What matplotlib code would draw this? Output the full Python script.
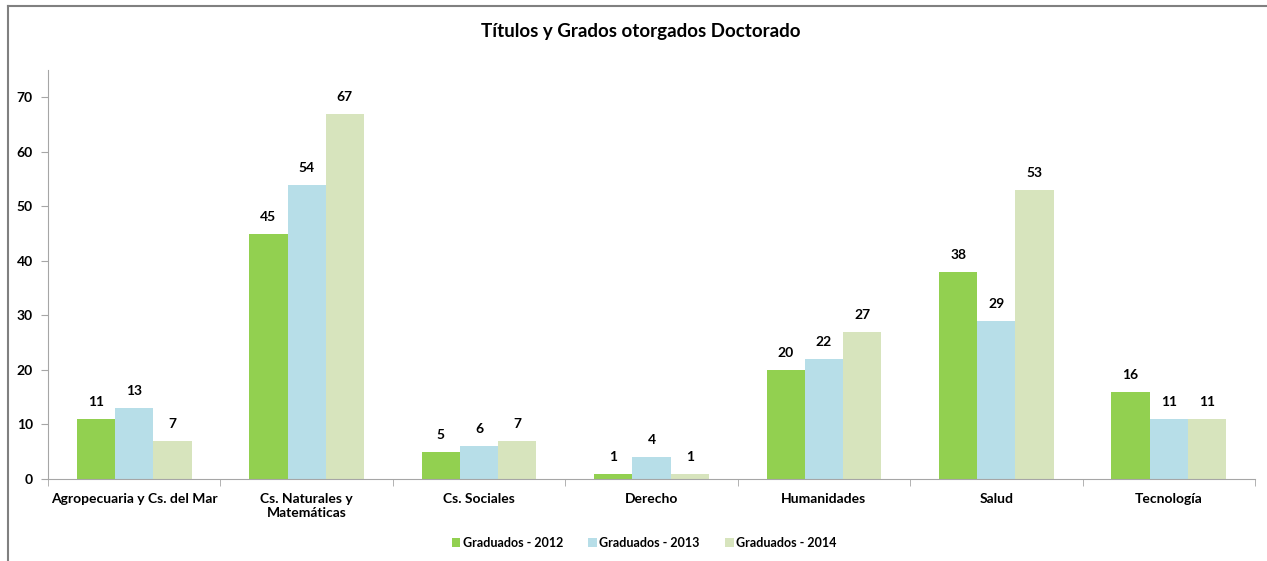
import numpy as np
import matplotlib
matplotlib.use("Agg")
import matplotlib.pyplot as plt
from matplotlib.lines import Line2D

plt.rcParams['font.family'] = ['Lato', 'DejaVu Sans']
plt.rcParams['font.weight'] = 'bold'

categorias = ["Agropecuaria y Cs. del Mar", "Cs. Naturales y\nMatemáticas", "Cs. Sociales",
              "Derecho", "Humanidades", "Salud", "Tecnología"]
grad_2012 = [11, 45, 5, 1, 20, 38, 16]
grad_2013 = [13, 54, 6, 4, 22, 29, 11]
grad_2014 = [7, 67, 7, 1, 27, 53, 11]
series = ["Graduados - 2012", "Graduados - 2013", "Graduados - 2014"]
colores = ["#92D050", "#B7DEE8", "#D7E4BD"]

fig = plt.figure(figsize=(12.67, 5.61), dpi=100)
ax = fig.add_axes([48/1267, 1-479/561, (1255-48)/1267, (479-70)/561])

x = np.arange(len(categorias))
w = 0.222
for i, (vals, nombre, c) in enumerate(zip([grad_2012, grad_2013, grad_2014], series, colores)):
    pos = x + (i-1)*w
    ax.bar(pos, vals, w, color=c, label=nombre)
    for p, v in zip(pos, vals):
        ax.text(p, v + 2.0, str(v), ha='center', va='bottom', fontsize=10, fontweight='bold', color='#000000')

ax.set_xlim(-0.5, len(categorias)-0.5)
ax.set_ylim(0, 75)
ax.set_yticks(range(0, 71, 10))
ax.set_xticks(x)
ax.set_xticklabels(categorias, fontsize=10, fontweight='bold')
ax.set_xticks(np.arange(len(categorias)+1)-0.5, minor=True)
ax.tick_params(axis='x', which='major', length=0, pad=10)
ax.tick_params(axis='x', which='minor', length=5, color='#A6A6A6', direction='out')
ax.tick_params(axis='y', length=5, color='#A6A6A6', labelsize=10, pad=6)
for lbl in ax.get_yticklabels():
    lbl.set_fontweight('bold')
for s in ['top', 'right']:
    ax.spines[s].set_visible(False)
for s in ['left', 'bottom']:
    ax.spines[s].set_color('#A6A6A6')

fig.text(641/1267, 1-31/561, "Títulos y Grados otorgados Doctorado", ha='center', va='center',
         fontsize=13.5, fontweight='bold')

fig.legend(loc='center', bbox_to_anchor=(644/1267, 1-543/561), ncol=3, frameon=False,
           fontsize=9, handlelength=0.7, handleheight=0.7, handletextpad=0.2, columnspacing=2.0)

fig.add_artist(Line2D([8/1267, 8/1267], [0, 1-6/561], color='#808080', lw=1.5))
fig.add_artist(Line2D([8/1267, 1], [1-6/561, 1-6/561], color='#808080', lw=1.5))

fig.savefig("out.png", dpi=100)
